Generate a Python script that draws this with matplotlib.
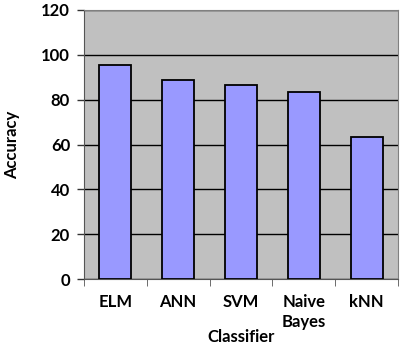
import matplotlib.pyplot as plt
import numpy as np

classifiers = ["ELM", "ANN", "SVM", "Naive\nBayes", "kNN"]
accuracy = [95.3, 88.9, 86.7, 83.6, 63.3]
y_ticks = [0, 20, 40, 60, 80, 100, 120]

plt.rcParams['font.family'] = ['Lato', 'DejaVu Sans']
plt.rcParams['font.weight'] = 'bold'

fig = plt.figure(figsize=(4.03, 3.44), dpi=100)
ax = fig.add_axes([84/403, 1-279/344, 314/403, 269/344])
ax.set_facecolor('#c0c0c0')

x = np.arange(len(classifiers))
ax.bar(x, accuracy, width=0.51, color='#9999ff', edgecolor='black', linewidth=1.3, zorder=3)

ax.set_xlim(-0.5, len(classifiers) - 0.5)
ax.set_ylim(0, 120)
ax.set_yticks(y_ticks)
ax.set_yticklabels([str(v) for v in y_ticks], fontsize=12, fontweight='bold')
ax.yaxis.grid(True, color='black', linewidth=1.0, zorder=1)

# category labels centered, tick marks at category boundaries
ax.set_xticks(x)
ax.set_xticklabels(classifiers, fontsize=12, fontweight='bold', linespacing=1.35, va='top')
ax.tick_params(axis='x', length=0, pad=10.5)
ax.set_xticks(np.arange(len(classifiers) + 1) - 0.5, minor=True)
ax.tick_params(axis='x', which='minor', length=5, color='#555555', direction='out')
ax.tick_params(axis='y', length=5, color='#333333', width=1, pad=5)

for side in ['top', 'right']:
    ax.spines[side].set_color('#808080')
ax.spines['left'].set_color('#555555')
ax.spines['bottom'].set_color('#555555')

ax.set_xlabel("Classifier", fontsize=12, fontweight='bold', labelpad=-0.5)
ax.set_ylabel("Accuracy", fontsize=12, fontweight='bold')
ax.yaxis.set_label_coords(-0.205, 0.5)

fig.savefig("out.png", dpi=100)
